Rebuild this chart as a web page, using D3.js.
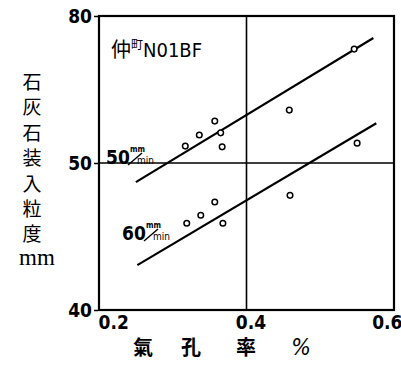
<!DOCTYPE html>
<html>
<head>
<meta charset="utf-8">
<script src="https://cdn.jsdelivr.net/npm/d3@7"></script>
<style>
  body { margin: 0; background: #fff; }
  svg { display: block; }
  .num { font-family: "DejaVu Sans Condensed", "Liberation Sans Narrow", "DejaVu Sans", sans-serif; font-stretch: condensed; font-weight: bold; }
  .cjk { font-family: "Noto Sans CJK JP", sans-serif; }
</style>
</head>
<body>
<div id="chart"></div>
<script>
// porosity (%) vs. limestone charge size (mm), two feed speeds
const porosity50 = [0.317, 0.336, 0.357, 0.365, 0.367, 0.458, 0.546];
const size50 = [62.3, 63.8, 65.7, 64.1, 62.2, 67.2, 75.5];
const porosity60 = [0.319, 0.338, 0.357, 0.368, 0.459, 0.550];
const size60 = [51.8, 52.9, 54.7, 51.8, 55.6, 62.7];
const fitX50 = [0.250, 0.572];
const fitY50 = [57.4, 77.0];
const fitX60 = [0.252, 0.576];
const fitY60 = [46.1, 65.4];

const xTicks = [0.2, 0.4, 0.6];
const xTickLabels = ["0.2", "0.4", "0.6"];
const yTicks = [40, 60, 80];
const yTickLabels = ["40", "50", "80"];   // the middle label is printed "50" in the original
const yTitle = ["石", "灰", "石", "装", "入", "粒", "度"];
const xTitle = ["氣", "孔", "率", "%"];

const width = 401, height = 365;
const margin = {top: 16, right: 7, bottom: 55, left: 99};

const x = d3.scaleLinear().domain([0.2, 0.6]).range([margin.left, width - margin.right]);
const y = d3.scaleLinear().domain([40, 80]).range([height - margin.bottom, margin.top]);

const svg = d3.select("#chart").append("svg")
    .attr("width", width)
    .attr("height", height);

// grid lines at the middle ticks
svg.append("line")
    .attr("x1", x(0.4)).attr("x2", x(0.4))
    .attr("y1", y(80)).attr("y2", y(40))
    .attr("stroke", "#000").attr("stroke-width", 1.6);
svg.append("line")
    .attr("x1", x(0.2)).attr("x2", x(0.6))
    .attr("y1", y(60)).attr("y2", y(60))
    .attr("stroke", "#000").attr("stroke-width", 1.6);

// frame
svg.append("rect")
    .attr("x", x(0.2)).attr("y", y(80))
    .attr("width", x(0.6) - x(0.2))
    .attr("height", y(40) - y(80))
    .attr("fill", "none")
    .attr("stroke", "#000")
    .attr("stroke-width", 2.2);

// y axis
const yAxis = d3.axisLeft(y)
    .tickValues(yTicks)
    .tickSize(4)
    .tickPadding(2)
    .tickFormat((d, i) => yTickLabels[i]);
svg.append("g")
    .attr("transform", `translate(${x(0.2) - 1},0)`)
    .call(yAxis)
    .call(g => g.select(".domain").remove())
    .call(g => g.selectAll(".tick line").attr("stroke-width", 1.5))
    .call(g => g.selectAll(".tick text")
        .attr("class", "num")
        .attr("font-size", 19)
        .attr("fill", "#000"));

// x axis
const xAxis = d3.axisBottom(x)
    .tickValues(xTicks)
    .tickSize(0)
    .tickPadding(6)
    .tickFormat((d, i) => xTickLabels[i]);
svg.append("g")
    .attr("transform", `translate(0,${y(40)})`)
    .call(xAxis)
    .call(g => g.select(".domain").remove())
    .call(g => g.selectAll(".tick text")
        .attr("class", "num")
        .attr("font-size", 19)
        .attr("fill", "#000")
        .attr("text-anchor", (d, i) => i === 0 ? "start" : (i === 2 ? "end" : "middle"))
        .attr("dx", (d, i) => i === 0 ? -1 : (i === 2 ? 8 : 4)));

// fitted lines
const line = d3.line().x(d => x(d[0])).y(d => y(d[1]));
svg.append("path")
    .datum(fitX50.map((v, i) => [v, fitY50[i]]))
    .attr("d", line)
    .attr("stroke", "#000").attr("stroke-width", 2.2).attr("fill", "none");
svg.append("path")
    .datum(fitX60.map((v, i) => [v, fitY60[i]]))
    .attr("d", line)
    .attr("stroke", "#000").attr("stroke-width", 2.2).attr("fill", "none");

// points
function dots(xs, ys) {
    svg.append("g").selectAll("circle")
        .data(xs.map((v, i) => [v, ys[i]]))
        .join("circle")
        .attr("cx", d => x(d[0]))
        .attr("cy", d => y(d[1]))
        .attr("r", 2.8)
        .attr("fill", "#fff")
        .attr("stroke", "#000")
        .attr("stroke-width", 1.5);
}
dots(porosity50, size50);
dots(porosity60, size60);

// plant label
const lab = svg.append("text")
    .attr("x", 111).attr("y", 57)
    .attr("font-size", 20);
lab.append("tspan").attr("class", "cjk").text("仲");
lab.append("tspan").attr("class", "cjk").attr("font-size", 12).attr("dy", -8).text("町");
lab.append("tspan").attr("class", "num").style("font-weight", "normal").attr("dy", 8).text("N01BF");

// speed labels  (number + mm/min as a slashed fraction)
function speed(text, px, py) {
    const g = svg.append("g").attr("transform", `translate(${px},${py})`);
    g.append("text").attr("class", "num").attr("font-size", 19).attr("x", 0).attr("y", 0).text(text);
    g.append("text").attr("class", "num").attr("font-size", 8).attr("x", 24).attr("y", -12).text("mm");
    g.append("line")
        .attr("x1", 22).attr("y1", 1).attr("x2", 36).attr("y2", -11)
        .attr("stroke", "#000").attr("stroke-width", 1.5);
    g.append("text").attr("class", "num").attr("font-size", 10).style("font-weight", "normal")
        .attr("x", 31).attr("y", 0).text("min");
}
speed("50", 106, 164);
speed("60", 122, 240);

// y title, vertical
svg.append("g").selectAll("text")
    .data(yTitle)
    .join("text")
    .attr("class", "cjk")
    .attr("x", 32)
    .attr("y", (d, i) => 89 + i * 25.4)
    .attr("text-anchor", "middle")
    .attr("font-size", 19)
    .text(d => d);
svg.append("text")
    .attr("x", 37).attr("y", 265)
    .attr("text-anchor", "middle")
    .attr("font-family", "Liberation Serif, DejaVu Serif, serif")
    .attr("font-size", 23)
    .text("mm");

// x title
svg.append("g").selectAll("text")
    .data(xTitle)
    .join("text")
    .attr("class", (d, i) => i === 3 ? "num" : "cjk")
    .attr("x", (d, i) => [143, 191, 246, 301][i])
    .attr("y", 355)
    .attr("text-anchor", "middle")
    .attr("font-size", (d, i) => i === 3 ? 23 : 20)
    .style("font-style", (d, i) => i === 3 ? "italic" : "normal")
    .style("font-weight", (d, i) => i === 3 ? "normal" : "bold")
    .text(d => d);
</script>
</body>
</html>
